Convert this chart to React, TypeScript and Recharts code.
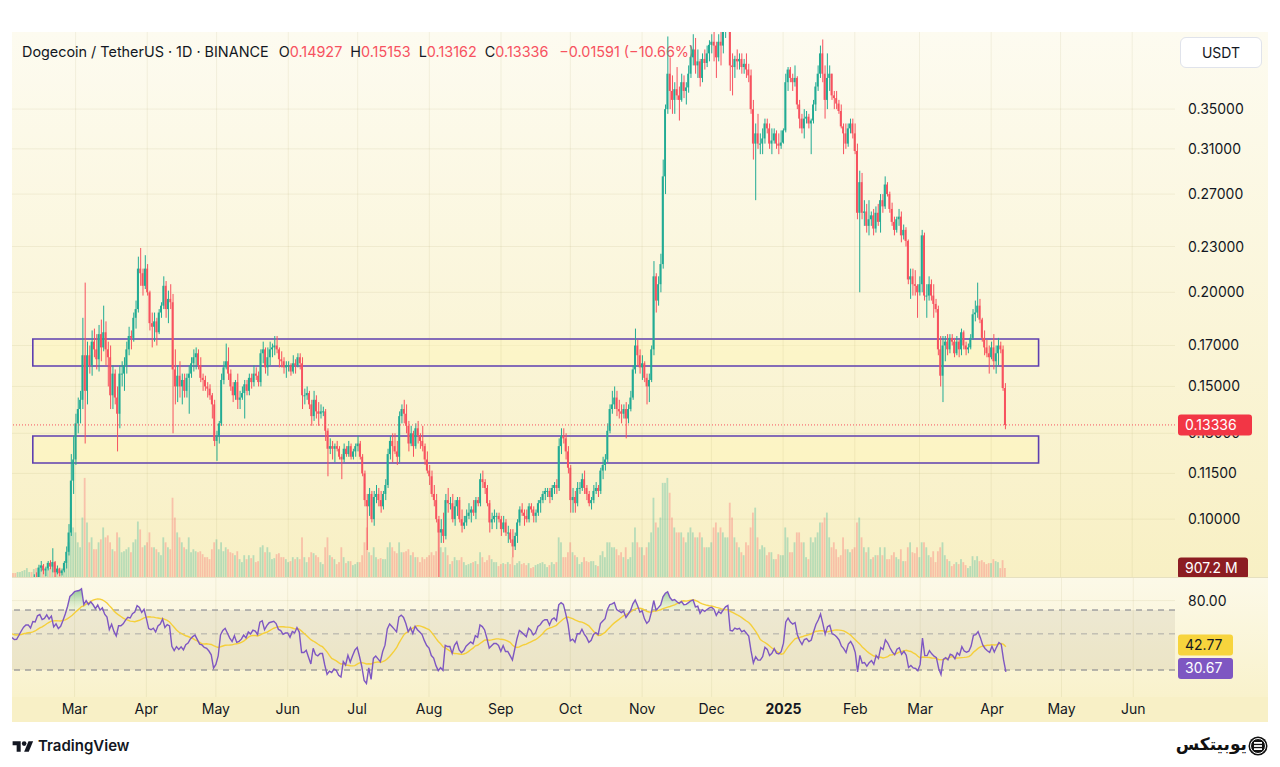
import React from "react";
import {
  ComposedChart,
  Bar,
  Line,
  Area,
  XAxis,
  YAxis,
  CartesianGrid,
  ReferenceLine,
  ReferenceArea,
} from "recharts";

// one daily candle: [high, low, close, volume in millions]; open = previous close
type Candle = [number, number, number, number];

// Jan 7 - Jan 31 2024 (off-screen, only warms up the RSI)
const jan24: Candle[] = [
  [0.0820, 0.0790, 0.0795, 900], [0.0835, 0.0770, 0.0830, 1300], [0.0840, 0.0775, 0.0790, 1400], [0.0850, 0.0780, 0.0835, 1500], [0.0900, 0.0830, 0.0870, 1800], [0.0880, 0.0800, 0.0810, 1500], [0.0830, 0.0805, 0.0820, 800],
  [0.0825, 0.0795, 0.0800, 700], [0.0815, 0.0795, 0.0808, 700], [0.0830, 0.0800, 0.0820, 800], [0.0825, 0.0800, 0.0810, 700], [0.0815, 0.0775, 0.0785, 900], [0.0810, 0.0775, 0.0800, 800], [0.0865, 0.0790, 0.0858, 1100],
  [0.0862, 0.0830, 0.0836, 650], [0.0840, 0.0780, 0.0790, 1100], [0.0795, 0.0755, 0.0772, 1200], [0.0800, 0.0768, 0.0791, 800], [0.0795, 0.0770, 0.0779, 700], [0.0815, 0.0775, 0.0810, 800], [0.0818, 0.0800, 0.0805, 600],
  [0.0822, 0.0800, 0.0810, 600], [0.0830, 0.0805, 0.0813, 700], [0.0820, 0.0790, 0.0798, 700], [0.0802, 0.0780, 0.0790, 700],
];

const feb24: Candle[] = [
  [0.0800, 0.0782, 0.0796, 600], [0.0802, 0.0785, 0.0789, 500], [0.0795, 0.0780, 0.0784, 400], [0.0790, 0.0775, 0.0777, 400], [0.0785, 0.0770, 0.0778, 500], [0.0795, 0.0775, 0.0789, 500], [0.0808, 0.0785, 0.0802, 600],
  [0.0820, 0.0798, 0.0815, 700], [0.0835, 0.0810, 0.0823, 900], [0.0830, 0.0815, 0.0823, 500], [0.0830, 0.0810, 0.0815, 500], [0.0845, 0.0812, 0.0837, 800], [0.0850, 0.0825, 0.0836, 900], [0.0870, 0.0830, 0.0862, 1000],
  [0.0880, 0.0852, 0.0868, 1200], [0.0872, 0.0845, 0.0855, 800], [0.0865, 0.0840, 0.0860, 700], [0.0880, 0.0855, 0.0875, 800], [0.0882, 0.0858, 0.0865, 900], [0.0915, 0.0850, 0.0877, 1500], [0.0880, 0.0835, 0.0850, 1200],
  [0.0868, 0.0845, 0.0860, 800], [0.0862, 0.0840, 0.0848, 700], [0.0860, 0.0842, 0.0855, 600], [0.0880, 0.0850, 0.0875, 800], [0.0920, 0.0860, 0.0905, 1800], [0.0985, 0.0895, 0.0960, 3500], [0.1220, 0.0950, 0.1125, 7000],
  [0.1290, 0.1080, 0.1200, 5000],
];

const mar24: Candle[] = [
  [0.1380, 0.1180, 0.1340, 4500], [0.1450, 0.1300, 0.1400, 3500], [0.1480, 0.1340, 0.1440, 3000], [0.1850, 0.1400, 0.1650, 6000], [0.2060, 0.1260, 0.1480, 10000], [0.1720, 0.1420, 0.1650, 5500], [0.1700, 0.1560, 0.1600, 3500],
  [0.1780, 0.1550, 0.1720, 4000], [0.1790, 0.1640, 0.1680, 2800], [0.1760, 0.1580, 0.1630, 2800], [0.1810, 0.1570, 0.1760, 3500], [0.1840, 0.1620, 0.1690, 3800], [0.1920, 0.1670, 0.1770, 5000], [0.1830, 0.1600, 0.1680, 4000],
  [0.1720, 0.1500, 0.1640, 4200], [0.1700, 0.1400, 0.1460, 3500], [0.1600, 0.1400, 0.1560, 2800], [0.1580, 0.1420, 0.1450, 2600], [0.1500, 0.1230, 0.1380, 4500], [0.1600, 0.1320, 0.1560, 4000], [0.1620, 0.1500, 0.1560, 2500],
  [0.1640, 0.1480, 0.1600, 2600], [0.1720, 0.1560, 0.1680, 2800], [0.1800, 0.1650, 0.1750, 3000], [0.1780, 0.1680, 0.1740, 2500], [0.1880, 0.1720, 0.1850, 3500], [0.1950, 0.1790, 0.1900, 3800], [0.2230, 0.1880, 0.2150, 5600],
  [0.2290, 0.2040, 0.2120, 4800], [0.2150, 0.1980, 0.2040, 3000], [0.2240, 0.2020, 0.2150, 3200],
];

const apr24: Candle[] = [
  [0.2180, 0.1980, 0.2000, 3500], [0.2010, 0.1780, 0.1820, 4500], [0.1880, 0.1690, 0.1800, 3000], [0.1880, 0.1720, 0.1830, 3000], [0.1850, 0.1700, 0.1770, 2800], [0.1900, 0.1760, 0.1880, 2500], [0.1940, 0.1850, 0.1920, 2200],
  [0.2100, 0.1900, 0.2040, 4000], [0.2070, 0.1850, 0.1900, 3500], [0.2010, 0.1820, 0.1960, 3000], [0.2050, 0.1900, 0.1940, 2800], [0.1990, 0.1300, 0.1580, 8000], [0.1680, 0.1420, 0.1500, 6000], [0.1600, 0.1430, 0.1550, 4500],
  [0.1620, 0.1450, 0.1500, 4000], [0.1560, 0.1420, 0.1530, 3500], [0.1560, 0.1450, 0.1480, 3000], [0.1560, 0.1450, 0.1540, 2800], [0.1600, 0.1380, 0.1560, 4000], [0.1640, 0.1540, 0.1610, 2500], [0.1680, 0.1570, 0.1640, 2800],
  [0.1690, 0.1580, 0.1660, 2600], [0.1680, 0.1580, 0.1600, 2500], [0.1640, 0.1520, 0.1540, 2600], [0.1560, 0.1480, 0.1530, 2300], [0.1550, 0.1480, 0.1500, 2000], [0.1520, 0.1450, 0.1490, 2000], [0.1510, 0.1440, 0.1460, 1800],
  [0.1470, 0.1360, 0.1420, 2800], [0.1440, 0.1250, 0.1270, 3500],
];

const may24: Candle[] = [
  [0.1310, 0.1195, 0.1290, 3800], [0.1350, 0.1260, 0.1340, 2800], [0.1560, 0.1330, 0.1530, 3500], [0.1620, 0.1510, 0.1590, 2600], [0.1710, 0.1580, 0.1620, 3000], [0.1690, 0.1530, 0.1560, 2800], [0.1580, 0.1480, 0.1500, 2500],
  [0.1520, 0.1430, 0.1460, 2400], [0.1530, 0.1440, 0.1520, 2200], [0.1560, 0.1400, 0.1440, 2600], [0.1480, 0.1400, 0.1450, 1800], [0.1500, 0.1440, 0.1470, 1500], [0.1530, 0.1360, 0.1510, 2200], [0.1530, 0.1460, 0.1480, 1800],
  [0.1560, 0.1460, 0.1540, 2200], [0.1560, 0.1490, 0.1520, 1900], [0.1600, 0.1500, 0.1560, 2200], [0.1590, 0.1530, 0.1550, 1500], [0.1570, 0.1500, 0.1520, 1600], [0.1680, 0.1500, 0.1660, 3000], [0.1720, 0.1610, 0.1680, 3200],
  [0.1690, 0.1560, 0.1590, 2500], [0.1690, 0.1550, 0.1640, 3000], [0.1720, 0.1600, 0.1680, 2500], [0.1710, 0.1640, 0.1690, 1800], [0.1750, 0.1650, 0.1700, 1900], [0.1750, 0.1660, 0.1680, 2300], [0.1690, 0.1590, 0.1630, 2400],
  [0.1670, 0.1590, 0.1620, 2000], [0.1640, 0.1560, 0.1590, 2000], [0.1620, 0.1540, 0.1600, 1800],
];

const jun24: Candle[] = [
  [0.1620, 0.1570, 0.1600, 1500], [0.1610, 0.1550, 0.1570, 1600], [0.1650, 0.1560, 0.1610, 2000], [0.1630, 0.1560, 0.1600, 1800], [0.1660, 0.1590, 0.1640, 2000], [0.1660, 0.1580, 0.1610, 1800], [0.1640, 0.1400, 0.1460, 4000],
  [0.1490, 0.1420, 0.1460, 2000], [0.1500, 0.1440, 0.1470, 1500], [0.1480, 0.1400, 0.1420, 2000], [0.1440, 0.1330, 0.1370, 2500], [0.1480, 0.1350, 0.1440, 2400], [0.1460, 0.1360, 0.1390, 2200], [0.1430, 0.1330, 0.1380, 2000],
  [0.1420, 0.1360, 0.1390, 1500], [0.1410, 0.1370, 0.1390, 1300], [0.1400, 0.1270, 0.1310, 3000], [0.1320, 0.1140, 0.1240, 4000], [0.1280, 0.1220, 0.1250, 2200], [0.1270, 0.1200, 0.1240, 2000], [0.1260, 0.1190, 0.1250, 1800],
  [0.1270, 0.1230, 0.1240, 1300], [0.1250, 0.1200, 0.1210, 1500], [0.1220, 0.1130, 0.1200, 3000], [0.1260, 0.1190, 0.1240, 2000], [0.1250, 0.1210, 0.1220, 1400], [0.1270, 0.1210, 0.1250, 1600], [0.1260, 0.1200, 0.1210, 1600],
  [0.1240, 0.1200, 0.1230, 1200], [0.1260, 0.1210, 0.1250, 1300],
];

const jul24: Candle[] = [
  [0.1290, 0.1230, 0.1260, 1500], [0.1270, 0.1200, 0.1210, 1500], [0.1220, 0.1140, 0.1150, 2200], [0.1160, 0.1040, 0.1060, 3500], [0.1080, 0.0910, 0.1040, 5000], [0.1100, 0.1010, 0.1080, 2500], [0.1090, 0.0990, 0.1000, 2200],
  [0.1090, 0.0980, 0.1070, 3000], [0.1110, 0.1050, 0.1080, 2000], [0.1100, 0.1040, 0.1060, 1800], [0.1090, 0.1020, 0.1040, 1900], [0.1090, 0.1030, 0.1080, 1800], [0.1130, 0.1060, 0.1110, 1800], [0.1240, 0.1100, 0.1220, 3000],
  [0.1290, 0.1200, 0.1270, 3500], [0.1300, 0.1190, 0.1250, 3000], [0.1300, 0.1220, 0.1230, 2600], [0.1270, 0.1180, 0.1210, 2400], [0.1390, 0.1190, 0.1370, 3500], [0.1420, 0.1340, 0.1400, 2500], [0.1440, 0.1340, 0.1380, 2500],
  [0.1420, 0.1300, 0.1330, 2600], [0.1350, 0.1230, 0.1260, 2800], [0.1330, 0.1250, 0.1300, 2200], [0.1310, 0.1210, 0.1250, 2500], [0.1340, 0.1240, 0.1320, 2000], [0.1350, 0.1260, 0.1290, 2000], [0.1300, 0.1240, 0.1270, 1500],
  [0.1330, 0.1230, 0.1250, 2000], [0.1260, 0.1180, 0.1200, 1800], [0.1230, 0.1150, 0.1160, 2000],
];

const aug24: Candle[] = [
  [0.1180, 0.1110, 0.1140, 2200], [0.1160, 0.1070, 0.1080, 2500], [0.1110, 0.1040, 0.1060, 2200], [0.1080, 0.0990, 0.1000, 2600], [0.1010, 0.0800, 0.0960, 5500], [0.1000, 0.0930, 0.0970, 3000], [0.1020, 0.0930, 0.0950, 2500],
  [0.1080, 0.0940, 0.1060, 3000], [0.1100, 0.1020, 0.1050, 2200], [0.1070, 0.1030, 0.1050, 1300], [0.1080, 0.0990, 0.1000, 1600], [0.1060, 0.0980, 0.1040, 2000], [0.1070, 0.1010, 0.1060, 1700], [0.1070, 0.0990, 0.1000, 1700],
  [0.1030, 0.0960, 0.0980, 2000], [0.1010, 0.0970, 0.0990, 1500], [0.1030, 0.0980, 0.1010, 1200], [0.1050, 0.1000, 0.1020, 1300], [0.1040, 0.0990, 0.1030, 1400], [0.1060, 0.1010, 0.1020, 1500], [0.1070, 0.1000, 0.1060, 1600],
  [0.1070, 0.1040, 0.1050, 1300], [0.1150, 0.1040, 0.1130, 2500], [0.1160, 0.1100, 0.1120, 2000], [0.1130, 0.1080, 0.1100, 1500], [0.1110, 0.1040, 0.1050, 1700], [0.1060, 0.0960, 0.0990, 2200], [0.1020, 0.0970, 0.1000, 1800],
  [0.1030, 0.0990, 0.1010, 1500], [0.1020, 0.0970, 0.1010, 1500], [0.1020, 0.0990, 0.1000, 1100],
];

const sep24: Candle[] = [
  [0.1010, 0.0950, 0.0970, 1300], [0.1010, 0.0960, 0.0990, 1400], [0.1000, 0.0950, 0.0960, 1300], [0.0980, 0.0930, 0.0960, 1500], [0.0970, 0.0930, 0.0940, 1300], [0.0970, 0.0890, 0.0920, 2000], [0.0960, 0.0910, 0.0950, 1200],
  [0.1000, 0.0930, 0.0990, 1400], [0.1040, 0.0980, 0.1030, 1600], [0.1050, 0.1010, 0.1020, 1300], [0.1030, 0.0980, 0.1010, 1400], [0.1030, 0.0990, 0.1000, 1200], [0.1050, 0.0990, 0.1040, 1400], [0.1050, 0.1020, 0.1030, 900],
  [0.1040, 0.0990, 0.1010, 1000], [0.1030, 0.0990, 0.1020, 1200], [0.1060, 0.1010, 0.1050, 1300], [0.1070, 0.1020, 0.1060, 1400], [0.1090, 0.1050, 0.1080, 1500], [0.1100, 0.1060, 0.1090, 1300], [0.1100, 0.1070, 0.1090, 1000],
  [0.1100, 0.1050, 0.1070, 1200], [0.1110, 0.1060, 0.1100, 1500], [0.1120, 0.1080, 0.1110, 1300], [0.1130, 0.1080, 0.1100, 1500], [0.1280, 0.1090, 0.1250, 4000], [0.1320, 0.1220, 0.1290, 3500], [0.1320, 0.1260, 0.1280, 2000],
  [0.1300, 0.1200, 0.1230, 2000], [0.1250, 0.1150, 0.1170, 2500],
];

const oct24: Candle[] = [
  [0.1180, 0.1020, 0.1060, 3500], [0.1100, 0.1020, 0.1070, 2500], [0.1090, 0.1020, 0.1050, 2200], [0.1120, 0.1040, 0.1100, 2000], [0.1120, 0.1080, 0.1100, 1300], [0.1150, 0.1090, 0.1130, 1500], [0.1160, 0.1080, 0.1100, 2000],
  [0.1110, 0.1060, 0.1080, 1600], [0.1090, 0.1040, 0.1050, 1500], [0.1070, 0.1030, 0.1060, 1600], [0.1110, 0.1050, 0.1090, 1600], [0.1120, 0.1080, 0.1100, 1200], [0.1110, 0.1070, 0.1090, 1100], [0.1170, 0.1080, 0.1160, 2200],
  [0.1210, 0.1130, 0.1180, 2600], [0.1220, 0.1160, 0.1200, 2000], [0.1340, 0.1190, 0.1310, 3500], [0.1420, 0.1300, 0.1400, 3500], [0.1480, 0.1380, 0.1420, 3000], [0.1500, 0.1400, 0.1450, 3000], [0.1480, 0.1370, 0.1400, 2800],
  [0.1440, 0.1360, 0.1390, 2200], [0.1420, 0.1340, 0.1380, 2500], [0.1420, 0.1360, 0.1400, 2000], [0.1430, 0.1280, 0.1360, 3000], [0.1420, 0.1340, 0.1400, 1800], [0.1480, 0.1390, 0.1450, 2000], [0.1600, 0.1440, 0.1580, 3500],
  [0.1790, 0.1560, 0.1700, 5000], [0.1730, 0.1600, 0.1650, 3500], [0.1680, 0.1560, 0.1590, 3000],
];

const nov24: Candle[] = [
  [0.1650, 0.1530, 0.1610, 3000], [0.1620, 0.1520, 0.1540, 2200], [0.1560, 0.1420, 0.1500, 3000], [0.1560, 0.1430, 0.1530, 3500], [0.1700, 0.1520, 0.1680, 4500], [0.2200, 0.1650, 0.2100, 8000], [0.2120, 0.1880, 0.1950, 5500],
  [0.2100, 0.1920, 0.2050, 5000], [0.2250, 0.2000, 0.2180, 6000], [0.3000, 0.2150, 0.2850, 9500], [0.3550, 0.2700, 0.3500, 9500], [0.4370, 0.3450, 0.3900, 10000], [0.4100, 0.3500, 0.3700, 8500], [0.3880, 0.3450, 0.3600, 6000],
  [0.3800, 0.3450, 0.3720, 5000], [0.3980, 0.3600, 0.3650, 4500], [0.3750, 0.3380, 0.3600, 4500], [0.3900, 0.3580, 0.3800, 4500], [0.3880, 0.3620, 0.3700, 4000], [0.3800, 0.3550, 0.3740, 3500], [0.4000, 0.3680, 0.3900, 4500],
  [0.4250, 0.3850, 0.4100, 5000], [0.4400, 0.4000, 0.4200, 4500], [0.4350, 0.3900, 0.4000, 4000], [0.4200, 0.3850, 0.4050, 4000], [0.4080, 0.3750, 0.3850, 4500], [0.4150, 0.3800, 0.4080, 4000], [0.4200, 0.3950, 0.4030, 3000],
  [0.4250, 0.3980, 0.4150, 3000], [0.4320, 0.4050, 0.4260, 3000],
];

const dec24: Candle[] = [
  [0.4400, 0.4150, 0.4300, 3500], [0.4450, 0.4050, 0.4250, 5000], [0.4300, 0.3850, 0.4100, 5500], [0.4400, 0.4050, 0.4300, 4500], [0.4500, 0.4000, 0.4250, 5000], [0.4550, 0.4150, 0.4450, 4500], [0.4750, 0.4350, 0.4650, 4000],
  [0.4840, 0.4500, 0.4750, 4000], [0.4800, 0.3700, 0.4000, 7500], [0.4150, 0.3650, 0.3980, 6000], [0.4120, 0.3850, 0.4080, 4000], [0.4200, 0.3950, 0.4050, 3500], [0.4150, 0.3950, 0.4080, 3000], [0.4150, 0.3900, 0.3980, 2500],
  [0.4080, 0.3900, 0.4020, 2200], [0.4150, 0.3850, 0.3950, 3500], [0.4020, 0.3800, 0.3880, 3200], [0.3950, 0.3450, 0.3500, 5000], [0.3600, 0.3000, 0.3150, 6500], [0.3350, 0.2650, 0.3250, 7000], [0.3450, 0.3100, 0.3150, 4000],
  [0.3250, 0.3050, 0.3150, 2800], [0.3300, 0.3050, 0.3200, 3200], [0.3400, 0.3150, 0.3350, 3000], [0.3400, 0.3250, 0.3300, 2200], [0.3350, 0.3100, 0.3150, 2500], [0.3300, 0.3050, 0.3180, 2500], [0.3300, 0.3150, 0.3250, 1800],
  [0.3280, 0.3100, 0.3150, 1800], [0.3250, 0.3050, 0.3130, 2300], [0.3280, 0.3100, 0.3160, 2200],
];

const jan25: Candle[] = [
  [0.3300, 0.3150, 0.3280, 2200], [0.3900, 0.3260, 0.3800, 5000], [0.3980, 0.3700, 0.3950, 4000], [0.3980, 0.3800, 0.3850, 2500], [0.3900, 0.3700, 0.3800, 2500], [0.4000, 0.3750, 0.3850, 3500], [0.3870, 0.3500, 0.3550, 4500],
  [0.3600, 0.3300, 0.3400, 4500], [0.3450, 0.3250, 0.3300, 3500], [0.3500, 0.3200, 0.3400, 3500], [0.3480, 0.3350, 0.3420, 2000], [0.3450, 0.3300, 0.3350, 1800], [0.3400, 0.3050, 0.3380, 4000], [0.3600, 0.3350, 0.3550, 3500],
  [0.3800, 0.3480, 0.3750, 4000], [0.4000, 0.3700, 0.3900, 4500], [0.4250, 0.3850, 0.4150, 5500], [0.4330, 0.3800, 0.3900, 5500], [0.4000, 0.3400, 0.3600, 6000], [0.4150, 0.3500, 0.3850, 6500], [0.4000, 0.3700, 0.3900, 4000],
  [0.3900, 0.3600, 0.3650, 3000], [0.3700, 0.3500, 0.3620, 3500], [0.3700, 0.3500, 0.3560, 2800], [0.3600, 0.3450, 0.3480, 2000], [0.3550, 0.3300, 0.3320, 2200], [0.3350, 0.3050, 0.3250, 4000], [0.3350, 0.3100, 0.3150, 2800],
  [0.3350, 0.3120, 0.3300, 2800], [0.3400, 0.3250, 0.3350, 2500], [0.3400, 0.3200, 0.3250, 2800],
];

const feb25: Candle[] = [
  [0.3350, 0.3050, 0.3080, 3000], [0.3150, 0.2500, 0.2550, 5500], [0.2900, 0.2000, 0.2800, 6000], [0.2880, 0.2500, 0.2550, 4000], [0.2650, 0.2450, 0.2560, 3000], [0.2620, 0.2400, 0.2450, 2500], [0.2650, 0.2380, 0.2500, 3000],
  [0.2560, 0.2450, 0.2530, 1800], [0.2580, 0.2380, 0.2430, 2000], [0.2600, 0.2400, 0.2550, 2200], [0.2620, 0.2450, 0.2480, 2200], [0.2700, 0.2400, 0.2650, 3000], [0.2700, 0.2550, 0.2600, 2200], [0.2850, 0.2580, 0.2780, 3000],
  [0.2800, 0.2680, 0.2700, 1800], [0.2720, 0.2550, 0.2580, 1800], [0.2630, 0.2450, 0.2480, 2200], [0.2520, 0.2380, 0.2420, 2500], [0.2520, 0.2400, 0.2500, 2000], [0.2580, 0.2450, 0.2520, 1800], [0.2560, 0.2330, 0.2380, 2800],
  [0.2460, 0.2350, 0.2420, 1600], [0.2440, 0.2300, 0.2340, 1600], [0.2350, 0.2050, 0.2080, 3000], [0.2150, 0.1960, 0.2100, 3500], [0.2150, 0.1980, 0.2050, 2500], [0.2140, 0.1980, 0.2040, 2400], [0.2050, 0.1850, 0.2000, 3000],
];

const mar25: Candle[] = [
  [0.2100, 0.1980, 0.2050, 2000], [0.2420, 0.2000, 0.2380, 3500], [0.2400, 0.1950, 0.1980, 3500], [0.2050, 0.1850, 0.1980, 3000], [0.2100, 0.1950, 0.2050, 2200], [0.2080, 0.1950, 0.1980, 2000], [0.2050, 0.1850, 0.1930, 2600],
  [0.1960, 0.1880, 0.1900, 1500], [0.1920, 0.1650, 0.1680, 2600], [0.1750, 0.1500, 0.1550, 3000], [0.1750, 0.1430, 0.1700, 3500], [0.1750, 0.1620, 0.1720, 2200], [0.1760, 0.1650, 0.1680, 1800], [0.1760, 0.1660, 0.1740, 1600],
  [0.1760, 0.1700, 0.1720, 1100], [0.1740, 0.1640, 0.1660, 1300], [0.1750, 0.1650, 0.1720, 1500], [0.1730, 0.1640, 0.1680, 1300], [0.1790, 0.1650, 0.1770, 1800], [0.1780, 0.1680, 0.1700, 1500], [0.1720, 0.1650, 0.1680, 1200],
  [0.1710, 0.1660, 0.1690, 900], [0.1760, 0.1680, 0.1740, 1100], [0.1900, 0.1730, 0.1870, 2100], [0.1950, 0.1830, 0.1880, 1700], [0.2060, 0.1850, 0.1920, 2100], [0.1960, 0.1820, 0.1840, 1600], [0.1850, 0.1720, 0.1740, 1700],
  [0.1780, 0.1650, 0.1690, 1500], [0.1730, 0.1640, 0.1660, 1300], [0.1700, 0.1560, 0.1640, 1400],
];

const apr25: Candle[] = [
  [0.1720, 0.1630, 0.1690, 1400], [0.1760, 0.1580, 0.1620, 1800], [0.1700, 0.1560, 0.1660, 1600], [0.1740, 0.1600, 0.1700, 1500], [0.1720, 0.1660, 0.1680, 900], [0.1700, 0.1480, 0.14927, 1700], [0.15153, 0.13162, 0.13336, 907.2],
];

const months = [jan24, feb24, mar24, apr24, may24, jun24, jul24, aug24, sep24, oct24, nov24, dec24, jan25, feb25, mar25, apr25];

// month marks on the time axis
const tickDates = [
  "2024-03-01", "2024-04-01", "2024-05-01", "2024-06-01", "2024-07-01", "2024-08-01", "2024-09-01", "2024-10-01",
  "2024-11-01", "2024-12-01", "2025-01-01", "2025-02-01", "2025-03-01", "2025-04-01", "2025-05-01", "2025-06-01",
];
const tickLabels = ["Mar", "Apr", "May", "Jun", "Jul", "Aug", "Sep", "Oct", "Nov", "Dec", "2025", "Feb", "Mar", "Apr", "May", "Jun"];

const priceTicks = [0.1, 0.115, 0.13, 0.15, 0.17, 0.2, 0.23, 0.27, 0.31, 0.35];
const rsiTicks = [80];

// drawn zones
const zones = [
  { from: "2024-02-12", to: "2025-04-21", low: 0.1597, high: 0.1734 },
  { from: "2024-02-12", to: "2025-04-21", low: 0.1187, high: 0.1289 },
];

const rsiLast = 30.67;
const rsiMaLast = 42.77;

const DAY = 86400000;
const FIRST_DAY = Date.UTC(2024, 0, 7);
const VIEW_FROM = Date.UTC(2024, 1, 3);
const VIEW_TO = Date.UTC(2025, 5, 19);

const UP = "#22ab94";
const DOWN = "#f7525f";
const TEXT = "#131722";
const GRID = "rgba(150,135,70,0.10)";
const FONT = "Inter, 'Noto Sans', 'DejaVu Sans', sans-serif";

const candles = months.flat();
const closes = candles.map((c) => c[2]);

function rsiOf(values: number[], n: number) {
  const out: (number | null)[] = values.map(() => null);
  let gain = 0;
  let loss = 0;
  for (let i = 1; i < values.length; i++) {
    const ch = values[i] - values[i - 1];
    const up = Math.max(ch, 0);
    const dn = Math.max(-ch, 0);
    if (i <= n) {
      gain += up / n;
      loss += dn / n;
      if (i < n) continue;
    } else {
      gain = (gain * (n - 1) + up) / n;
      loss = (loss * (n - 1) + dn) / n;
    }
    out[i] = loss === 0 ? 100 : 100 - 100 / (1 + gain / loss);
  }
  return out;
}

function smaOf(values: (number | null)[], n: number) {
  return values.map((_, i) => {
    if (i < n - 1) return null;
    const win = values.slice(i - n + 1, i + 1);
    if (win.some((v) => v == null)) return null;
    return (win as number[]).reduce((a, b) => a + b, 0) / n;
  });
}

const rsiVals = rsiOf(closes, 14);
const rsiMa = smaOf(rsiVals, 14);

const iso = (t: number) => new Date(t).toISOString().slice(0, 10);

const rows: any[] = [];
for (let t = VIEW_FROM; t <= VIEW_TO; t += DAY) {
  const i = Math.round((t - FIRST_DAY) / DAY);
  const c = candles[i];
  if (!c) {
    rows.push({ date: iso(t) });
    continue;
  }
  const open = candles[i - 1][2];
  rows.push({
    date: iso(t),
    open,
    high: c[0],
    low: c[1],
    close: c[2],
    vol: c[3],
    up: c[2] >= open,
    rsi: rsiVals[i],
    ma: rsiMa[i],
  });
}

const last = rows.filter((r) => r.close != null).slice(-1)[0];
const change = last.close - last.open;

function Wick(props: any) {
  const { x, y, width, height, payload } = props;
  if (!payload || payload.close == null || !isFinite(y)) return <g />;
  const top = Math.min(y, y + height);
  return <rect x={x + width / 2 - 0.5} y={top} width={1} height={Math.max(Math.abs(height), 1)} fill={payload.up ? UP : DOWN} />;
}

function Body(props: any) {
  const { x, y, width, height, payload } = props;
  if (!payload || payload.close == null || !isFinite(y)) return <g />;
  const top = Math.min(y, y + height);
  const w = 1.9;
  return <rect x={x + width / 2 - w / 2} y={top} width={w} height={Math.max(Math.abs(height), 1)} fill={payload.up ? UP : DOWN} />;
}

function VolBar(props: any) {
  const { x, y, width, height, payload } = props;
  if (!payload || payload.vol == null || !isFinite(y)) return <g />;
  const w = 1.8;
  return <rect x={x + width / 2 - w / 2} y={y} width={w} height={Math.max(height, 0)} fill={payload.up ? "rgba(34,171,148,0.30)" : "rgba(247,82,95,0.30)"} />;
}

// a coloured value box sitting on the price scale
function TagBox({ x, y, text, bg, color, w }: any) {
  return (
    <g>
      <rect x={x} y={y - 10.5} width={w} height={21} rx={3} fill={bg} />
      <text x={x + 7} y={y + 5} fontSize={14} fill={color} fontFamily={FONT}>
        {text}
      </text>
    </g>
  );
}

function VolTag(p: any) {
  if (!p.viewBox) return null;
  return <TagBox x={p.viewBox.x + p.viewBox.width + 3} y={p.viewBox.y} text={`${last.vol.toFixed(1)} M`} bg="#8c1d22" color="#fff" w={70} />;
}

// price scale: plain labels, plus the last-price box drawn last so it covers the label under it
function PriceTick({ x, y, payload }: any) {
  const v = payload.value;
  if (v === last.close) return <TagBox x={x - 10} y={y} text={v.toFixed(5)} bg="#f23645" color="#fff" w={74} />;
  return (
    <text x={x} y={y + 5} fontSize={14} fill={TEXT} fontFamily={FONT}>
      {v.toFixed(5)}
    </text>
  );
}

function RsiTick({ x, y, payload }: any) {
  const v = payload.value;
  if (v === rsiMaLast) return <TagBox x={x - 10} y={y} text={v.toFixed(2)} bg="#f7d43d" color={TEXT} w={55} />;
  if (v === rsiLast) return <TagBox x={x - 10} y={y} text={v.toFixed(2)} bg="#7e57c2" color="#fff" w={55} />;
  return (
    <text x={x} y={y + 5} fontSize={14} fill={TEXT} fontFamily={FONT}>
      {v.toFixed(2)}
    </text>
  );
}

function MonthTick({ x, y, payload }: any) {
  const label = tickLabels[tickDates.indexOf(payload.value)];
  return (
    <text x={x} y={y + 9} textAnchor="middle" fontSize={14} fontWeight={label === "2025" ? 700 : 400} fill={TEXT} fontFamily={FONT}>
      {label}
    </text>
  );
}

const range = (d: any, a: number, b: number) => (d.close == null ? null : [Math.min(a, b), Math.max(a, b)]);

export default function App() {
  return (
    <div style={{ position: "absolute", left: 0, top: 0, width: 1280, height: 767, background: "#fff", fontFamily: FONT, overflow: "hidden" }}>
      <div style={{ position: "absolute", left: 12, top: 32, width: 1256, height: 545, background: "linear-gradient(#fdfbf0, #f8f0c4)" }} />
      <div style={{ position: "absolute", left: 12, top: 578, width: 1256, height: 119, background: "linear-gradient(#fcf9e8, #f9f2cc)" }} />
      <div style={{ position: "absolute", left: 12, top: 697, width: 1256, height: 25, background: "#f8f0c6" }} />
      <div style={{ position: "absolute", left: 12, top: 577, width: 1256, height: 1, background: "#e6e0c0" }} />

      <div style={{ position: "absolute", left: 22, top: 43, fontSize: 14.4, color: TEXT, whiteSpace: "pre" }}>
        <span>Dogecoin / TetherUS · 1D · BINANCE</span>
        <span style={{ marginLeft: 10 }}>O</span>
        <span style={{ color: DOWN }}>{last.open.toFixed(5)}</span>
        <span style={{ marginLeft: 8 }}>H</span>
        <span style={{ color: DOWN }}>{last.high.toFixed(5)}</span>
        <span style={{ marginLeft: 8 }}>L</span>
        <span style={{ color: DOWN }}>{last.low.toFixed(5)}</span>
        <span style={{ marginLeft: 8 }}>C</span>
        <span style={{ color: DOWN }}>{last.close.toFixed(5)}</span>
        <span style={{ color: DOWN, marginLeft: 11 }}>
          {`−${Math.abs(change).toFixed(5)} (−${Math.abs((change / last.open) * 100).toFixed(2)}%)`}
        </span>
      </div>

      <div style={{ position: "absolute", left: 12, top: 32 }}>
        <ComposedChart width={1256} height={545} data={rows} margin={{ top: 0, right: 0, bottom: 0, left: 0 }} barCategoryGap={0} barGap={0}>
          <CartesianGrid vertical={false} stroke={GRID} horizontalValues={priceTicks} />
          <XAxis dataKey="date" hide />
          <XAxis xAxisId="b" dataKey="date" hide />
          <XAxis xAxisId="v" dataKey="date" hide />
          <YAxis
            orientation="right"
            scale="log"
            domain={[0.0838, 0.443]}
            allowDataOverflow
            ticks={[...priceTicks, last.close]}
            interval={0}
            width={93}
            axisLine={false}
            tickLine={false}
            tickMargin={7}
            tick={<PriceTick />}
          />
          <YAxis yAxisId="vol" hide domain={[0, 55000]} />
          {tickDates.map((d) => (
            <ReferenceLine key={d} x={d} stroke={GRID} />
          ))}
          <Bar xAxisId="v" yAxisId="vol" dataKey="vol" barSize={2} shape={VolBar} isAnimationActive={false} />
          {zones.map((z, i) => (
            <ReferenceArea key={i} x1={z.from} x2={z.to} y1={z.low} y2={z.high} fill="#fff6b8" fillOpacity={0.45} stroke="#5e3fb0" strokeWidth={1.6} />
          ))}
          <Bar dataKey={(d: any) => range(d, d.low, d.high)} barSize={1} shape={Wick} isAnimationActive={false} />
          <Bar xAxisId="b" dataKey={(d: any) => range(d, d.open, d.close)} barSize={2} shape={Body} isAnimationActive={false} />
          <ReferenceLine y={last.close} stroke={DOWN} strokeDasharray="1 2" />
          <ReferenceLine yAxisId="vol" y={last.vol} stroke="none" label={(p: any) => <VolTag {...p} />} />
        </ComposedChart>
      </div>

      <div style={{ position: "absolute", left: 12, top: 578 }}>
        <ComposedChart width={1256} height={144} data={rows} margin={{ top: 0, right: 0, bottom: 0, left: 0 }}>
          <defs>
            <linearGradient id="obFill" x1="0" y1="0" x2="0" y2="1">
              <stop offset="0" stopColor="#2e9d4a" stopOpacity={0.9} />
              <stop offset="1" stopColor="#b9e3b5" stopOpacity={0.3} />
            </linearGradient>
          </defs>
          <CartesianGrid vertical={false} stroke={GRID} horizontalValues={rsiTicks} />
          <XAxis dataKey="date" ticks={tickDates} interval={0} tick={<MonthTick />} axisLine={false} tickLine={false} height={25} />
          <YAxis
            orientation="right"
            scale="log"
            domain={[20.5, 110]}
            allowDataOverflow
            ticks={[...rsiTicks, rsiMaLast, rsiLast]}
            interval={0}
            width={93}
            axisLine={false}
            tickLine={false}
            tickMargin={7}
            tick={<RsiTick />}
          />
          {tickDates.map((d) => (
            <ReferenceLine key={d} x={d} stroke={GRID} />
          ))}
          <ReferenceArea y1={30} y2={70} fill="#8a7f6a" fillOpacity={0.12} stroke="none" />
          <ReferenceLine y={70} stroke="#787b86" strokeDasharray="6 5" />
          <ReferenceLine y={50} stroke="#787b86" strokeOpacity={0.55} strokeDasharray="6 5" />
          <ReferenceLine y={30} stroke="#787b86" strokeDasharray="6 5" />
          <Area
            dataKey={(d: any) => (d.rsi == null ? null : [70, Math.max(70, d.rsi)])}
            stroke="none"
            fill="url(#obFill)"
            isAnimationActive={false}
          />
          <Line dataKey="ma" stroke="#f5cf3a" strokeWidth={1.4} dot={false} activeDot={false} isAnimationActive={false} />
          <Line dataKey="rsi" stroke="#7e57c2" strokeWidth={1.4} dot={false} activeDot={false} isAnimationActive={false} />
        </ComposedChart>
      </div>

      <div
        style={{
          position: "absolute",
          left: 1180,
          top: 37,
          width: 82,
          height: 31,
          background: "#fff",
          border: "1px solid #e0e3eb",
          borderRadius: 6,
          boxSizing: "border-box",
          fontSize: 14,
          color: TEXT,
          display: "flex",
          alignItems: "center",
          justifyContent: "center",
        }}
      >
        USDT
      </div>

      <svg style={{ position: "absolute", left: 12, top: 739 }} width={22} height={15} viewBox="0 0 36 26">
        <path d="M14 22H7V11H0V4h14v18z" fill={TEXT} />
        <circle cx="20" cy="8" r="4" fill={TEXT} />
        <path d="M28 22h-8l7.5-18h8L28 22z" fill={TEXT} />
      </svg>
      <div style={{ position: "absolute", left: 38, top: 736, fontSize: 15, fontWeight: 600, color: TEXT }}>TradingView</div>

      <div style={{ position: "absolute", right: 33, top: 734, fontFamily: "'DejaVu Sans', sans-serif", fontSize: 17, fontWeight: 700, color: "#111", direction: "rtl" }}>
        یوبیتکس
      </div>
      <svg style={{ position: "absolute", left: 1248, top: 736 }} width={20} height={20} viewBox="0 0 20 20">
        <circle cx="10" cy="10" r="9.5" fill="#111" />
        <circle cx="10" cy="10" r="7.5" fill="none" stroke="#fff" strokeWidth={1} />
        <rect x="6" y="6" width="8" height="1.8" fill="#fff" />
        <rect x="6" y="9.1" width="8" height="1.8" fill="#fff" />
        <rect x="6" y="12.2" width="8" height="1.8" fill="#fff" />
      </svg>
    </div>
  );
}
